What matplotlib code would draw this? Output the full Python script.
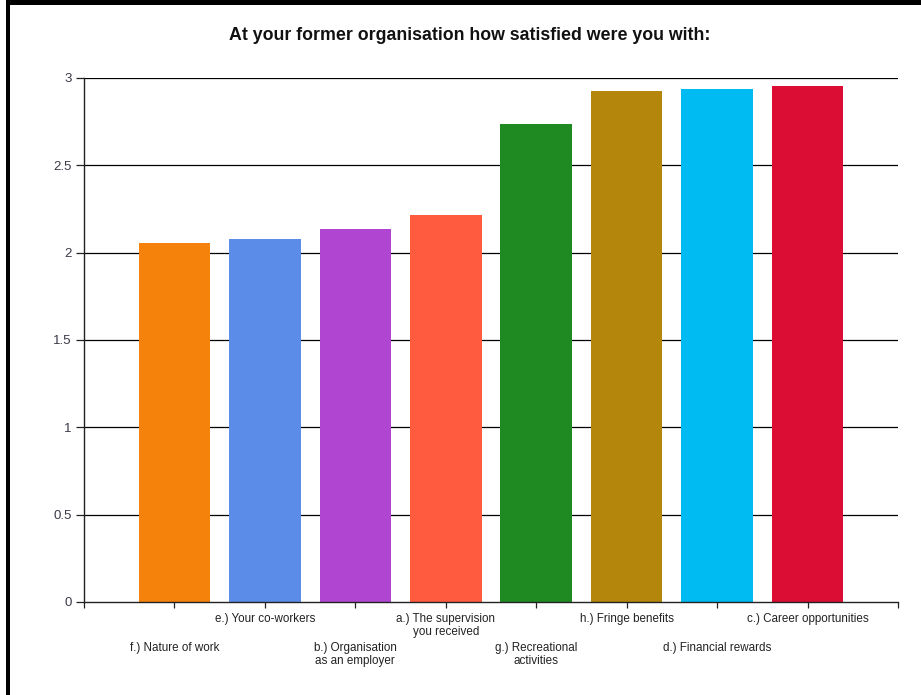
import matplotlib
matplotlib.use("Agg")
import matplotlib.pyplot as plt
from matplotlib.patches import Rectangle

# Survey data: mean satisfaction score per aspect, sorted ascending
categories = [
    "f.) Nature of work",
    "e.) Your co-workers",
    "b.) Organisation\nas an employer",
    "a.) The supervision\nyou received",
    "g.) Recreational\nactivities",
    "h.) Fringe benefits",
    "d.) Financial rewards",
    "c.) Career opportunities",
]
scores = [2.057, 2.077, 2.134, 2.216, 2.737, 2.926, 2.937, 2.956]
bar_colors = ["#F5820A", "#5B8DE8", "#B045D2", "#FF5C3F",
              "#1F8A22", "#B5860C", "#00BAF2", "#DC0D35"]
y_ticks = [0, 0.5, 1, 1.5, 2, 2.5, 3]
y_tick_labels = ["0", "0.5", "1", "1.5", "2", "2.5", "3"]
title = "At your former organisation how satisfied were you with:"

plt.rcParams["font.family"] = ["Liberation Sans", "DejaVu Sans"]

W, H = 921, 695
fig = plt.figure(figsize=(W / 100, H / 100), dpi=100)
fig.patch.set_facecolor("white")

ax = fig.add_axes([84 / W, (H - 602) / H, (898 - 84) / W, (602 - 78) / H])

positions = list(range(1, len(categories) + 1))
ax.set_xlim(0, len(categories) + 1)
ax.set_ylim(0, 3)

# horizontal gridlines behind the bars
for yv in y_ticks[1:]:
    ax.axhline(yv, color="black", linewidth=0.9, zorder=1)

ax.bar(positions, scores, width=0.79, color=bar_colors, zorder=2)

for side in ("top", "right"):
    ax.spines[side].set_visible(False)
for side in ("left", "bottom"):
    ax.spines[side].set_color("#222222")
    ax.spines[side].set_linewidth(1.0)

ax.set_yticks(y_ticks)
ax.set_yticklabels(y_tick_labels, fontsize=9.5, color="#3a3a48")
ax.tick_params(axis="y", length=6, width=0.9, pad=3, color="#222222")

ax.set_xticks(range(0, len(categories) + 2))
ax.set_xticklabels([])
ax.tick_params(axis="x", length=4.5, width=0.9, color="#222222")

# category labels staggered on two rows
for i, (pos, lab) in enumerate(zip(positions, categories)):
    offset = -40 if i % 2 == 0 else -11
    ax.annotate(lab, xy=(pos, 0), xycoords=("data", "axes fraction"),
                xytext=(0, offset), textcoords="offset pixels",
                ha="center", va="top", fontsize=8.4, color="#222222",
                linespacing=1.1, annotation_clip=False)

fig.text(470 / W, 1 - 36 / H, title, ha="center", va="center",
         fontsize=12.8, fontweight="bold", color="#111111")

# black frame on the top and left edges
fig.add_artist(Rectangle((6 / W, 0), 3.5 / W, 1, transform=fig.transFigure,
                         facecolor="black", edgecolor="none"))
fig.add_artist(Rectangle((6 / W, 1 - 4.5 / H), 1, 4.5 / H,
                         transform=fig.transFigure,
                         facecolor="black", edgecolor="none"))

fig.savefig("out.png", dpi=100, facecolor="white")
